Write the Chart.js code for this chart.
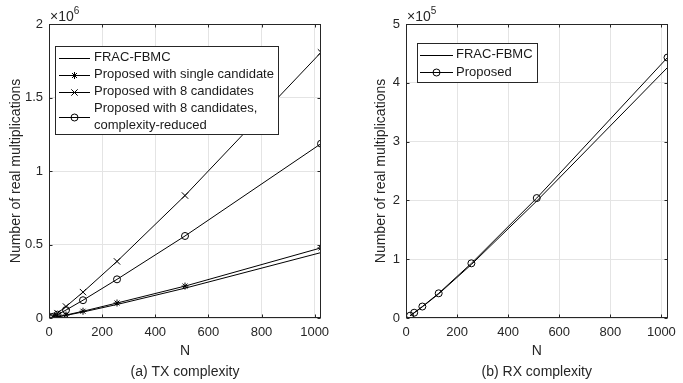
<!DOCTYPE html>
<html>
<head>
<meta charset="utf-8">
<script src="https://cdn.jsdelivr.net/npm/chart.js@4.4.1/dist/chart.umd.min.js"></script>
<style>
  html, body { margin: 0; padding: 0; background: #fff; }
  #wrap { position: relative; width: 683px; height: 383px; }
  canvas { position: absolute; top: 0; }
</style>
</head>
<body>
<div id="wrap">
  <canvas id="tx" width="342" height="383" style="left:0"></canvas>
  <canvas id="rx" width="341" height="383" style="left:342px"></canvas>
</div>
<script>
// FFT size
const nValues = [16, 32, 64, 128, 256, 512, 1024];

// (a) TX complexity, real multiplications
const txFrac = [3000, 7500, 18000, 41000, 92000, 203000, 445000];
const txSingle = [3500, 8500, 20000, 46000, 102000, 217000, 477000];
const txEight = [14000, 33000, 78000, 176000, 385000, 833000, 1807000];
const txReduced = [9000, 23000, 54000, 121000, 263000, 558000, 1186000];
const txLabels = ["FRAC-FBMC", "Proposed with single candidate", "Proposed with 8 candidates",
  ["Proposed with 8 candidates,", "complexity-reduced"]];

// (b) RX complexity
const rxFrac = [3800, 8700, 19000, 41000, 91000, 199000, 426000];
const rxProposed = [4000, 9000, 19500, 42000, 93000, 204000, 443000];
const rxLabels = ["FRAC-FBMC", "Proposed"];

const xTicks = [0, 200, 400, 600, 800, 1000];

const FONT = "'Liberation Sans', Arial, Helvetica, sans-serif";
const TEXT = "#262626";
const GRID = "#e4e4e4";

const toPoints = (vals) => vals.map((v, i) => ({ x: nValues[i], y: v }));

const mkSet = (label, vals, style, r) => ({
  label: Array.isArray(label) ? label.join(" ") : label,
  data: toPoints(vals),
  borderColor: "#000",
  borderWidth: 1,
  pointStyle: style || false,
  pointRadius: style ? r : 0,
  pointHoverRadius: style ? r : 0,
  pointBorderColor: "#000",
  pointBackgroundColor: "rgba(0,0,0,0)",
  pointBorderWidth: 1,
  tension: 0,
  fill: false,
});

// box, inward ticks, x10^k label and a MATLAB style legend
const frame = {
  id: "frame",
  afterDatasetsDraw(chart) {
    const { ctx, chartArea: a, scales: { x, y } } = chart;
    ctx.save();
    ctx.strokeStyle = TEXT;
    ctx.lineWidth = 1;
    const L = Math.round(a.left) + 0.5, R = Math.round(a.right) - 0.5;
    const T = Math.round(a.top) + 0.5, B = Math.round(a.bottom) - 0.5;
    ctx.strokeRect(L, T, R - L, B - T);
    ctx.beginPath();
    x.ticks.forEach((t) => {
      const px = Math.round(x.getPixelForValue(t.value)) + 0.5;
      ctx.moveTo(px, B); ctx.lineTo(px, B - 3);
      ctx.moveTo(px, T); ctx.lineTo(px, T + 3);
    });
    y.ticks.forEach((t) => {
      const py = Math.round(y.getPixelForValue(t.value)) + 0.5;
      ctx.moveTo(L, py); ctx.lineTo(L + 3, py);
      ctx.moveTo(R, py); ctx.lineTo(R - 3, py);
    });
    ctx.stroke();
    ctx.restore();
  },
  afterDraw(chart, args, opts) {
    const { ctx, chartArea: a } = chart;
    ctx.save();
    // exponent label
    ctx.fillStyle = TEXT;
    ctx.textBaseline = "middle";
    ctx.font = "14px " + FONT;
    ctx.fillText("\u00d710", a.left + 1, 17);
    const w = ctx.measureText("\u00d710").width;
    ctx.font = "10px " + FONT;
    ctx.fillText(opts.exp, a.left + 1 + w, 11);

    // legend
    const lg = opts.legend;
    ctx.fillStyle = "#fff";
    ctx.fillRect(lg.x, lg.y, lg.w, lg.h);
    ctx.strokeStyle = TEXT;
    ctx.lineWidth = 1;
    ctx.strokeRect(lg.x + 0.5, lg.y + 0.5, lg.w, lg.h);
    ctx.font = "13px " + FONT;
    ctx.textBaseline = "middle";
    let row = 0;
    chart.data.datasets.forEach((ds, i) => {
      const lines = Array.isArray(opts.labels[i]) ? opts.labels[i] : [opts.labels[i]];
      const y0 = lg.y + lg.first + row * lg.pitch;
      const ym = Math.round(y0 + (lines.length - 1) * lg.pitch / 2) + 0.5;
      ctx.strokeStyle = "#000";
      ctx.beginPath();
      ctx.moveTo(lg.x + lg.s0, ym);
      ctx.lineTo(lg.x + lg.s1, ym);
      ctx.stroke();
      if (ds.pointStyle) {
        ctx.fillStyle = "rgba(0,0,0,0)";
        Chart.helpers.drawPoint(ctx, { pointStyle: ds.pointStyle, radius: ds.pointRadius, borderWidth: 1 },
          lg.x + (lg.s0 + lg.s1) / 2, ym);
      }
      ctx.fillStyle = "#1a1a1a";
      lines.forEach((t, k) => ctx.fillText(t, lg.x + lg.tx, y0 + k * lg.pitch));
      row += lines.length;
    });
    ctx.restore();
  },
};

function makeChart(id, cfg) {
  return new Chart(document.getElementById(id), {
    type: "line",
    data: { datasets: cfg.datasets },
    plugins: [frame],
    options: {
      responsive: false,
      animation: false,
      events: [],
      layout: { padding: { top: 24, bottom: 0, left: 0, right: cfg.padRight } },
      plugins: {
        legend: { display: false },
        tooltip: { enabled: false },
        frame: { exp: cfg.exp, legend: cfg.legend, labels: cfg.labels },
      },
      scales: {
        x: {
          type: "linear",
          min: 0,
          max: 1024,
          afterFit: (s) => { s.height = 65; },
          afterBuildTicks: (s) => { s.ticks = xTicks.map((v) => ({ value: v })); },
          grid: { color: GRID, drawTicks: false },
          border: { display: false },
          ticks: {
            color: TEXT,
            font: { family: FONT, size: 13 },
            padding: 7,
            maxRotation: 0,
            autoSkip: false,
            callback: (v) => String(v),
          },
          title: {
            display: true,
            text: ["N", cfg.caption],
            color: TEXT,
            font: { family: FONT, size: 14, lineHeight: 1.5 },
            padding: { top: 0, bottom: 0 },
          },
        },
        y: {
          min: 0,
          max: cfg.yMax,
          afterFit: (s) => { s.width = cfg.yWidth; },
          afterBuildTicks: (s) => { s.ticks = cfg.yTicks.map((v) => ({ value: v * cfg.unit })); },
          grid: { color: GRID, drawTicks: false },
          border: { display: false },
          ticks: {
            color: TEXT,
            font: { family: FONT, size: 13 },
            padding: 6,
            callback: (v) => String(Math.round((v / cfg.unit) * 10) / 10),
          },
          title: {
            display: true,
            text: "Number of real multiplications",
            color: TEXT,
            font: { family: FONT, size: 14 },
            padding: { top: cfg.titlePad, bottom: 0 },
          },
        },
      },
    },
  });
}

makeChart("tx", {
  datasets: [
    mkSet(txLabels[0], txFrac, null, 0),
    mkSet(txLabels[1], txSingle, "star", 3.5),
    mkSet(txLabels[2], txEight, "crossRot", 4.5),
    mkSet(txLabels[3], txReduced, "circle", 3.5),
  ],
  labels: txLabels,
  caption: "(a) TX complexity",
  exp: "6",
  unit: 1e6,
  yMax: 2e6,
  yTicks: [0, 0.5, 1, 1.5, 2],
  yWidth: 49,
  padRight: 21,
  titlePad: 7.6,
  legend: { x: 55, y: 46, w: 223, h: 88, first: 11.5, pitch: 17, s0: 4, s1: 35, tx: 39 },
});

makeChart("rx", {
  datasets: [
    mkSet(rxLabels[0], rxFrac, null, 0),
    mkSet(rxLabels[1], rxProposed, "circle", 3.5),
  ],
  labels: rxLabels,
  caption: "(b) RX complexity",
  exp: "5",
  unit: 1e5,
  yMax: 5e5,
  yTicks: [0, 1, 2, 3, 4, 5],
  yWidth: 64,
  padRight: 7,
  titlePad: 30.6,
  legend: { x: 75, y: 43, w: 120, h: 39, first: 11.5, pitch: 17.5, s0: 3, s1: 36, tx: 39 },
});
</script>
</body>
</html>
